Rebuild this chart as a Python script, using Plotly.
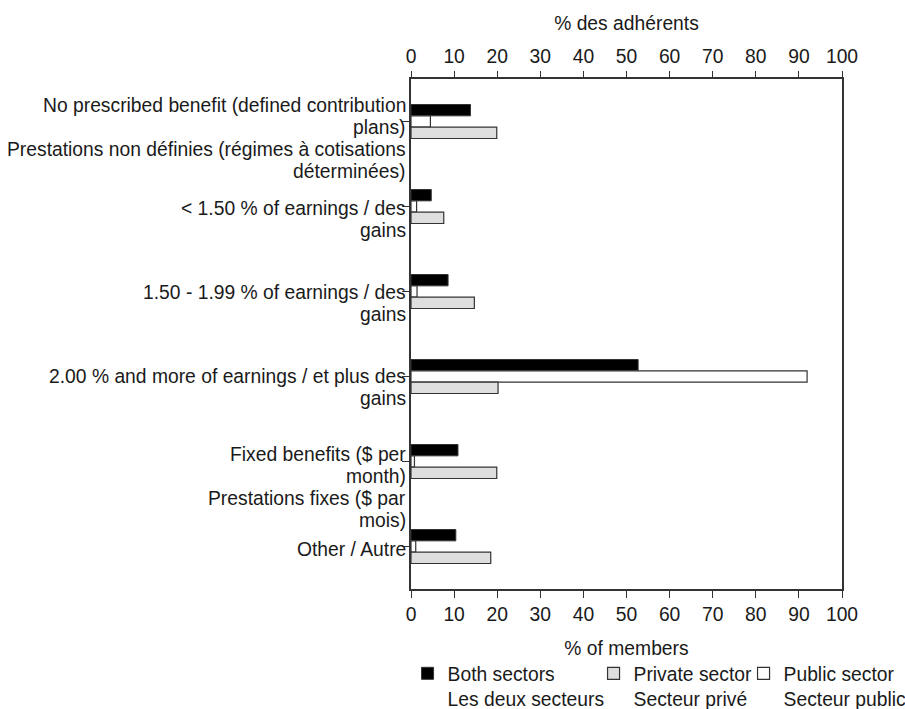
import plotly.graph_objects as go

# ---- data ----
categories = [
    "No prescribed benefit (defined contribution plans) / Prestations non définies (régimes à cotisations déterminées)",
    "< 1.50 % of earnings / des gains",
    "1.50 - 1.99 % of earnings / des gains",
    "2.00 % and more of earnings / et plus des gains",
    "Fixed benefits ($ per month) / Prestations fixes ($ par mois)",
    "Other / Autre",
]
label_lines = [
    ["No prescribed benefit (defined contribution", "plans)",
     "Prestations non définies (régimes à cotisations", "déterminées)"],
    ["< 1.50 % of earnings / des", "gains"],
    ["1.50 - 1.99 % of earnings / des", "gains"],
    ["2.00 % and more of earnings / et plus des", "gains"],
    ["Fixed benefits ($ per", "month)", "Prestations fixes ($ par", "mois)"],
    ["Other / Autre"],
]
both_sectors = [13.8, 4.7, 8.6, 52.7, 10.9, 10.4]
public_sector = [4.5, 1.3, 1.4, 91.9, 0.8, 1.1]
private_sector = [19.9, 7.6, 14.7, 20.2, 19.9, 18.5]
x_ticks = [0, 10, 20, 30, 40, 50, 60, 70, 80, 90, 100]
name_both = "Both sectors<br>Les deux secteurs"
name_private = "Private sector<br>Secteur privé"
name_public = "Public sector<br>Secteur public"
title_bottom = "% of members"
title_top = "% des adhérents"

# ---- style ----
FONT = "Liberation Sans, Arial, sans-serif"
FS = 19.3
TXT = "#1a1a1a"
LINE = "#333333"
first_line_offset = [-16, 2, 1, 0, -7, 3]   # px below tick (style only)
line_step = 22

fig = go.Figure()
fig.add_trace(go.Bar(y=categories, x=both_sectors, orientation="h", name=name_both,
                     marker=dict(color="#000000", line=dict(color=LINE, width=1)),
                     legendrank=1, legendwidth=141))
fig.add_trace(go.Bar(y=categories, x=public_sector, orientation="h", name=name_public,
                     marker=dict(color="#ffffff", line=dict(color=LINE, width=1.2)),
                     legendrank=3, legendwidth=126))
fig.add_trace(go.Bar(y=categories, x=private_sector, orientation="h", name=name_private,
                     marker=dict(color="#dedede", line=dict(color=LINE, width=1.2)),
                     legendrank=2, legendwidth=105))
# invisible trace to carry the top axis
fig.add_trace(go.Scatter(x=[None], y=[categories[0]], xaxis="x2", mode="markers",
                         showlegend=False, hoverinfo="skip"))

annotations = []
for i, lines in enumerate(label_lines):
    for j, ln in enumerate(lines):
        annotations.append(dict(
            xref="paper", x=0, xanchor="right", xshift=-3,
            yref="y", y=i, yanchor="middle",
            yshift=-(first_line_offset[i] + j * line_step),
            text=ln, showarrow=False, align="right",
            font=dict(family=FONT, size=FS, color=TXT)))

axis_common = dict(range=[0, 100], tickvals=x_ticks, ticks="outside", ticklen=7,
                   tickcolor=LINE, showgrid=False, zeroline=False,
                   tickfont=dict(family=FONT, size=FS, color=TXT))

fig.update_layout(
    width=905, height=709,
    margin=dict(l=410.5, r=63, t=79, b=120, autoexpand=False),
    paper_bgcolor="white", plot_bgcolor="white",
    barmode="group", bargap=0.6, bargroupgap=0,
    font=dict(family=FONT, size=FS, color=TXT),
    xaxis=dict(**axis_common, side="bottom", showline=True, linecolor=LINE,
               linewidth=1.5, mirror=True,
               title=dict(text=title_bottom, standoff=18,
                          font=dict(family=FONT, size=FS, color=TXT))),
    xaxis2=dict(**axis_common, side="top", overlaying="x", anchor="y",
                showline=False,
                title=dict(text=title_top, standoff=10,
                           font=dict(family=FONT, size=FS, color=TXT))),
    yaxis=dict(type="category", categoryorder="array", categoryarray=categories,
               range=[len(categories) - 0.5, -0.5], showticklabels=False,
               ticks="outside", ticklen=7, tickcolor=LINE, showgrid=False,
               zeroline=False, showline=True, linecolor=LINE, linewidth=1.5,
               mirror=True),
    legend=dict(orientation="h", x=-0.008, xanchor="left", y=-0.128, yanchor="top",
                valign="top", traceorder="normal",
                font=dict(family=FONT, size=FS, color=TXT),
                bgcolor="rgba(0,0,0,0)", itemclick=False),
    annotations=annotations,
    showlegend=True,
)

fig.write_html("out.html",
               config={"displayModeBar": False},
               post_script="document.body.style.margin='0';"
                           "document.body.style.overflow='hidden';")
